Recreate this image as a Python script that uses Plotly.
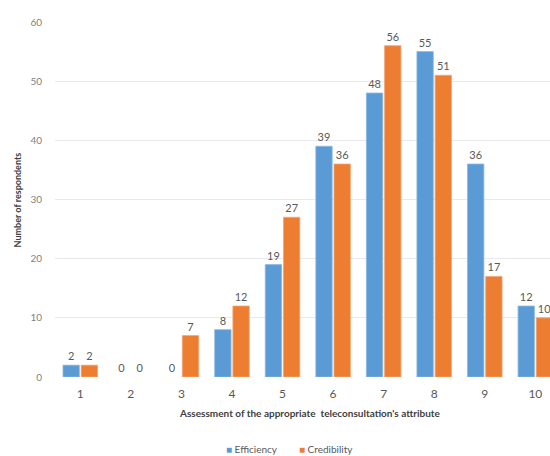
import plotly.graph_objects as go

# Assessment scores (1-10) and number of respondents per attribute
scores = [1, 2, 3, 4, 5, 6, 7, 8, 9, 10]
efficiency = [2, 0, 0, 8, 19, 39, 48, 55, 36, 12]
credibility = [2, 0, 7, 12, 27, 36, 56, 51, 17, 10]
y_ticks = [0, 10, 20, 30, 40, 50, 60]

BLUE = "#5B9BD5"
ORANGE = "#ED7D31"
LABEL_GRAY = "#595959"
FONT = "Lato, Open Sans, sans-serif"


def edge_widths(values):
    # no outline on empty bars so nothing is drawn on the baseline
    return [0.8 if v > 0 else 0 for v in values]


fig = go.Figure()
fig.add_trace(go.Bar(
    x=scores, y=efficiency, name="Efficiency",
    marker=dict(color=BLUE, line=dict(color="#8DB9E3", width=edge_widths(efficiency))),
    text=[str(v) for v in efficiency], textposition="outside",
    textfont=dict(color=LABEL_GRAY, size=11, family=FONT),
    cliponaxis=False,
))
fig.add_trace(go.Bar(
    x=scores, y=credibility, name="Credibility",
    marker=dict(color=ORANGE, line=dict(color="#F3A673", width=edge_widths(credibility))),
    text=[str(v) for v in credibility], textposition="outside",
    textfont=dict(color=LABEL_GRAY, size=11, family=FONT),
    cliponaxis=False,
))

legend_items = [("Efficiency", BLUE, 0.342), ("Credibility", ORANGE, 0.488)]
legend_annotations = [
    dict(text=f'<span style="color:{color}">■</span> {name}',
         xref="paper", yref="paper", x=x, y=-0.203, xanchor="left", yanchor="middle",
         showarrow=False, font=dict(size=10, color=LABEL_GRAY, family=FONT))
    for name, color, x in legend_items
]

fig.update_layout(
    width=550, height=456,
    margin=dict(l=55, r=0, t=22, b=79),
    paper_bgcolor="white", plot_bgcolor="white",
    barmode="group", bargap=0.28, bargroupgap=0.1,
    font=dict(family=FONT, color=LABEL_GRAY),
    showlegend=False,
    xaxis=dict(
        tickmode="array", tickvals=scores, ticktext=[str(s) for s in scores],
        range=[0.5, 10.29], showgrid=False, zeroline=False,
        showline=False, ticks="", tickfont=dict(size=12, color=LABEL_GRAY),
        ticklabelstandoff=8,
    ),
    yaxis=dict(
        range=[0, 60], tickvals=y_ticks, showgrid=True, gridcolor="#E8E8EE",
        gridwidth=1, zeroline=False, showline=False, ticks="",
        tickfont=dict(size=10, color="#7F7F7F"), ticklabelstandoff=12,
    ),
    annotations=[
        dict(text="<b>Assessment of the appropriate  teleconsultation's attribute</b>",
             xref="paper", yref="paper", x=0.514, y=-0.1, xanchor="center", yanchor="middle",
             showarrow=False, font=dict(size=10, color="#404040", family=FONT)),
        dict(text="<b>Number of respondents</b>", textangle=-90,
             xref="paper", yref="paper", x=-0.075, y=0.5, xanchor="center", yanchor="middle",
             showarrow=False, font=dict(size=9, color="#404040", family=FONT)),
    ] + legend_annotations,
)

fig.write_html("out.html")
